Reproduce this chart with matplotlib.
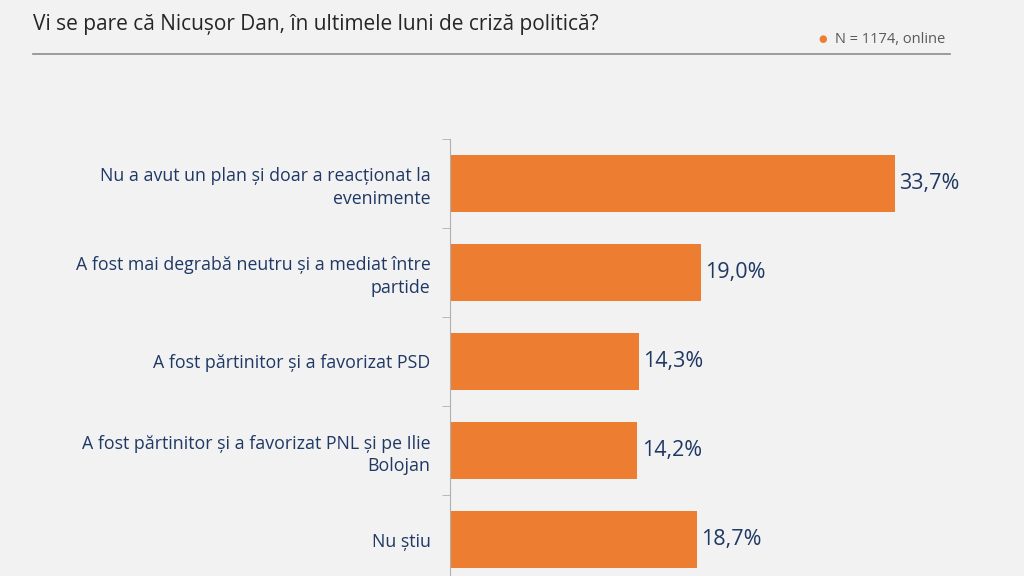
import matplotlib.pyplot as plt
import numpy as np

categories = [
    "Nu a avut un plan și doar a reacționat la\nevenimente",
    "A fost mai degrabă neutru și a mediat între\npartide",
    "A fost părtinitor și a favorizat PSD",
    "A fost părtinitor și a favorizat PNL și pe Ilie\nBolojan",
    "Nu știu",
]
values = [33.7, 19.0, 14.3, 14.2, 18.7]
value_labels = ["33,7%", "19,0%", "14,3%", "14,2%", "18,7%"]

bg = "#f2f2f2"
orange = "#ed7d31"
navy = "#1f3864"

plt.rcParams['font.family'] = ['Open Sans', 'DejaVu Sans']

fig = plt.figure(figsize=(10.24, 5.76), dpi=100, facecolor=bg)
ax = fig.add_axes([0.4395, -0.0139, 0.5156, 0.7726], facecolor=bg)

y = np.arange(len(categories))
ax.barh(y, values, height=0.63, color=orange)
ax.set_ylim(len(categories) - 0.5, -0.5)
ax.set_xlim(0, 40)

for yi, v, lab in zip(y, values, value_labels):
    ax.text(v + 0.35, yi, lab, va="center", ha="left", fontsize=15.5, color=navy)

ax.set_yticks(y)
ax.set_yticklabels(categories, fontsize=12.8, color=navy, linespacing=1.3)
ax.tick_params(axis="y", which="major", length=0, pad=14)
ax.set_yticks(np.arange(-0.5, len(categories), 1), minor=True)
ax.tick_params(axis="y", which="minor", length=6, color="#b0b0b0")
ax.set_xticks([])
for s in ["top", "right", "bottom"]:
    ax.spines[s].set_visible(False)
ax.spines["left"].set_color("#b0b0b0")

fig.text(0.032, 0.957, "Vi se pare că Nicușor Dan, în ultimele luni de criză politică?",
         fontsize=15, color="#262626", va="center", ha="left")
fig.add_artist(plt.Line2D([0.032, 0.928], [0.906, 0.906], color="#8c8c8c", lw=1.2))
fig.text(0.803, 0.932, "●", fontsize=7, color=orange, va="center", ha="center")
fig.text(0.923, 0.932, "N = 1174, online", fontsize=10.5, color="#595959",
         va="center", ha="right")

fig.savefig("out.png", dpi=100, facecolor=bg)
